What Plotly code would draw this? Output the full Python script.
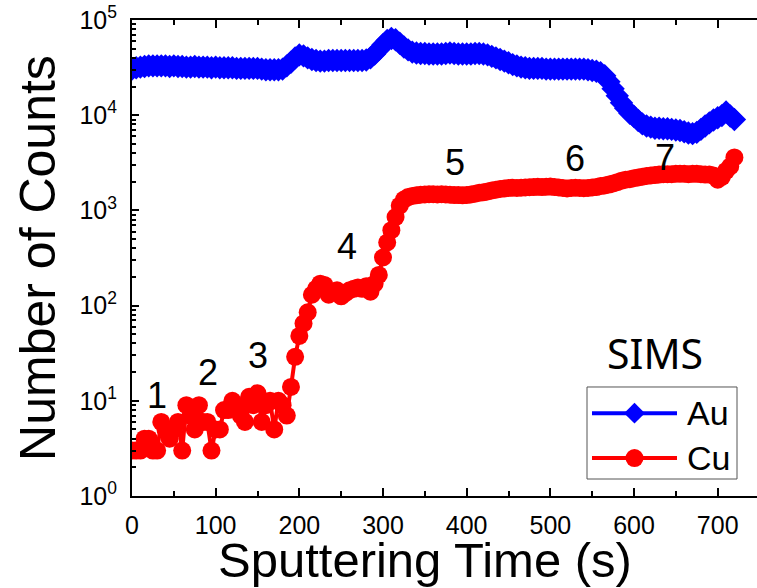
import plotly.graph_objects as go
import math

# ---------------- data ----------------
time_s = list(range(0, 725, 5))

au_counts = [
    30500, 31500, 32000, 32500, 33000, 33000, 33000, 33000, 33000, 32500,
    33000, 32500, 32500, 32000, 32000, 32500, 32000, 32000, 32000, 31500,
    32000, 31500, 31500, 31500, 31500, 31000, 31000, 31000, 31000, 31000,
    31000, 30500, 30000, 30000, 30000, 30000, 30500, 33000, 36000, 40000,
    43000, 42000, 40000, 38500, 37500, 37000, 37000, 37500, 37500, 37500,
    37500, 37500, 37500, 37500, 37500, 37500, 38000, 40000, 44000, 49000,
    55000, 61000, 64000, 62000, 57000, 52000, 48500, 46000, 45000, 44500,
    44500, 44000, 44000, 44000, 44000, 44500, 45000, 44500, 44000, 44000,
    44000, 44000, 44500, 44500, 44000, 43000, 41500, 40000, 38500, 37000,
    35500, 34000, 33000, 32000, 31500, 31000, 31000, 31000, 31000, 30500,
    30500, 30500, 30500, 30500, 30500, 30500, 30500, 30500, 30500, 30000,
    29500, 29000, 28000, 26000, 22500, 19000, 16000, 13500, 11800, 10500,
    9700, 8800, 8100, 7700, 7500, 7300, 7300, 7200, 7200, 7100,
    7000, 6900, 6700, 6500, 6400, 6600, 7100, 7700, 8300, 8900,
    9400, 9900, 10800, 9800, 9000,
]

cu_counts = [
    3, 3, 3, 4, 4, 3, 3, 6, 5, 4,
    5, 6, 3, 9, 7, 5, 9, 6, 6, 3,
    5, 5, 8, 8, 10, 9, 7, 6, 11, 9,
    12, 6, 9, 10, 5, 10, 9, 7, 14, 29,
    48, 65, 85, 130, 150, 170, 165, 130, 140, 145,
    125, 135, 145, 150, 155, 150, 160, 140, 170, 210,
    320, 460, 620, 850, 1120, 1300, 1380, 1420, 1440, 1460,
    1470, 1480, 1480, 1470, 1480, 1470, 1460, 1450, 1450, 1440,
    1450, 1470, 1500, 1530, 1550, 1580, 1620, 1650, 1680, 1700,
    1720, 1730, 1720, 1730, 1740, 1750, 1760, 1770, 1760, 1770,
    1780, 1760, 1740, 1720, 1700, 1720, 1730, 1720, 1710, 1720,
    1740, 1760, 1800, 1830, 1870, 1920, 1980, 2050, 2100, 2130,
    2180, 2220, 2260, 2300, 2330, 2350, 2380, 2400, 2400, 2400,
    2420, 2430, 2420, 2400, 2420, 2420, 2400, 2380, 2380, 2320,
    2100, 2250, 2600, 2900, 3600,
]

x_ticks = [0, 100, 200, 300, 400, 500, 600, 700]
y_ticks = [1, 10, 100, 1000, 10000, 100000]
y_ticktext = ["10<sup>%d</sup>" % i for i in range(6)]
y_minor = [m * 10 ** e for e in range(5) for m in range(2, 10)]

layer_labels = ["1", "2", "3", "4", "5", "6", "7"]
layer_x = [30, 91, 151, 257, 386, 529, 637]
layer_y = [11.5, 20, 30, 413, 3220, 3470, 3630]

series_names = ["Au", "Cu"]
series_colors = ["#0000ff", "#ff0000"]
series_symbols = ["diamond", "circle"]

# ---------------- figure ----------------
fig = go.Figure()

fig.add_trace(go.Scatter(
    x=time_s, y=au_counts, mode="lines+markers", name="Au",
    line=dict(color=series_colors[0], width=3),
    marker=dict(symbol="diamond", size=18, color=series_colors[0], line=dict(width=0)),
    showlegend=False,
))
fig.add_trace(go.Scatter(
    x=time_s, y=cu_counts, mode="lines+markers", name="Cu",
    line=dict(color=series_colors[1], width=4),
    marker=dict(symbol="circle", size=18, color=series_colors[1], line=dict(width=0)),
    showlegend=False,
))

# manual legend on hidden overlay axes (fractions of plot area)
leg_rows = [0.174, 0.0798]
for name, col, sym, yy in zip(series_names, series_colors, series_symbols, leg_rows):
    fig.add_trace(go.Scatter(
        x=[0.736, 0.872], y=[yy, yy], xaxis="x2", yaxis="y3", mode="lines",
        line=dict(color=col, width=4), showlegend=False, hoverinfo="skip",
    ))
    fig.add_trace(go.Scatter(
        x=[0.804], y=[yy], xaxis="x2", yaxis="y3", mode="markers",
        marker=dict(symbol=sym, size=16 if sym == "diamond" else 18, color=col),
        showlegend=False, hoverinfo="skip",
    ))

fig.add_shape(type="rect", xref="paper", yref="paper",
              x0=0.728, x1=0.968, y0=0.0357, y1=0.229,
              line=dict(color="#555555", width=1), fillcolor="rgba(0,0,0,0)")

annotations = []
for name, yy in zip(series_names, leg_rows):
    annotations.append(dict(xref="paper", yref="paper", x=0.884, y=yy, text=name,
                            showarrow=False, xanchor="left", yanchor="middle",
                            font=dict(family="Liberation Sans, Arial", size=34, color="black")))
annotations.append(dict(xref="paper", yref="paper", x=(655 - 132) / 625, y=(496 - 353) / 476,
                        text="SIMS", showarrow=False, xanchor="center", yanchor="middle",
                        font=dict(family="Noto Sans", size=41, color="black")))
for lab, lx, ly in zip(layer_labels, layer_x, layer_y):
    annotations.append(dict(x=lx, y=math.log10(ly), xref="x", yref="y", text=lab,
                            showarrow=False, xanchor="center", yanchor="middle",
                            font=dict(family="Liberation Sans, Arial", size=36, color="black")))
# x-axis title (placed as text, slightly left of the plot centre as in the source)
annotations.append(dict(xref="paper", yref="paper", x=(425 - 132) / 625, y=(496 - 560) / 476,
                        text="Sputtering Time (s)", showarrow=False,
                        xanchor="center", yanchor="middle",
                        font=dict(family="Liberation Sans, Arial", size=49, color="black")))

axis_font = dict(family="Liberation Sans, Arial", size=25, color="black")

fig.update_layout(
    width=757, height=588,
    margin=dict(l=132, r=0, t=20, b=92, pad=0),
    paper_bgcolor="white", plot_bgcolor="white",
    showlegend=False,
    annotations=annotations,
    xaxis=dict(
        range=[0, 747], tickvals=x_ticks, ticks="inside", ticklen=8, tickwidth=2,
        tickcolor="black", showline=True, linewidth=2, linecolor="black",
        mirror="ticks", showgrid=False, zeroline=False, tickfont=axis_font,
        ticklabelstandoff=6,
        minor=dict(dtick=50, tick0=0, ticks="inside", ticklen=5, tickwidth=2,
                   tickcolor="black", showgrid=False),
    ),
    yaxis=dict(
        type="log", range=[0, 5], tickmode="array", tickvals=y_ticks, ticktext=y_ticktext,
        ticks="inside", ticklen=7, tickwidth=2, tickcolor="black",
        showline=True, linewidth=2, linecolor="black", mirror=False,
        showgrid=False, zeroline=False, tickfont=axis_font, ticklabelstandoff=8,
        minor=dict(tickmode="array", tickvals=y_minor, ticks="inside", ticklen=4,
                   tickwidth=1.5, tickcolor="black", showgrid=False),
        title=dict(text="Number of Counts", standoff=8,
                   font=dict(family="Liberation Sans, Arial", size=50, color="black")),
    ),
    yaxis2=dict(
        type="log", range=[0, 5], overlaying="y", side="right", tickmode="array",
        tickvals=y_ticks, ticks="inside", ticklen=9, tickwidth=2, tickcolor="black",
        showticklabels=False, showline=False, showgrid=False, zeroline=False,
        minor=dict(tickmode="array", tickvals=y_minor, ticks="inside", ticklen=6,
                   tickwidth=1.5, tickcolor="black", showgrid=False),
    ),
    xaxis2=dict(overlaying="x", range=[0, 1], visible=False),
    yaxis3=dict(overlaying="y", range=[0, 1], visible=False),
)

fig.write_html("out.html")
